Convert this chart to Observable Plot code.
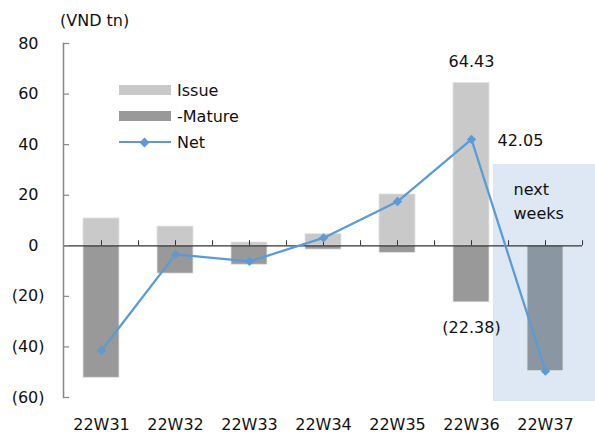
<!DOCTYPE html>
<html>
<head>
<meta charset="utf-8">
<script src="https://cdn.jsdelivr.net/npm/d3@7"></script>
<script src="https://cdn.jsdelivr.net/npm/@observablehq/plot@0.6"></script>
<style>
  body { margin: 0; background: #fff; }
  #chart { position: relative; width: 595px; height: 435px; font-family: "DejaVu Sans", sans-serif; color: #111; }
  #chart svg { position: absolute; left: 0; top: 0; }
  .unit { position: absolute; left: 60px; top: 11px; font-size: 16px; line-height: 20px; }
  .legend { position: absolute; left: 119px; top: 77px; font-size: 16px; }
  .legend .row { position: relative; height: 26px; display: flex; align-items: center; }
  .legend .sw { width: 52px; height: 10px; margin-right: 6px; }
  .legend .ln { width: 52px; height: 10px; margin-right: 6px; position: relative; }
  .legend .ln::before { content: ""; position: absolute; left: 0; right: 0; top: 4px; height: 2.25px; background: #5b9bd5; }
  .legend .ln::after { content: ""; position: absolute; left: 22px; top: 1.5px; width: 7px; height: 7px; background: #5b9bd5; transform: rotate(45deg); }
</style>
</head>
<body>
<div id="chart"></div>
<script>
// Weekly government bond issuance vs. maturities (VND tn)
const weeks = ["22W31", "22W32", "22W33", "22W34", "22W35", "22W36", "22W37"];
const issue = [10.8, 7.6, 1.3, 4.6, 20.3, 64.43, 0];
const mature = [-52.2, -11.0, -7.5, -1.5, -2.8, -22.38, -49.6];
const net = [-41.4, -3.4, -6.2, 3.1, 17.5, 42.05, -49.6];

// Upcoming weeks, shaded as a forecast zone
const forecastWeeks = ["22W37"];
const forecastBand = [-61.6, 32.1];

const yTicks = [-60, -40, -20, 0, 20, 40, 60, 80];
const yPositiveTicks = [0, 20, 40, 60, 80];
const yNegativeTicks = [-20, -40, -60];

const labelWeek = "22W36";

const rows = weeks.map((week, i) => ({week, issue: issue[i], mature: mature[i], net: net[i]}));
const labelled = rows.filter(d => d.week === labelWeek);

const issueColor = "#c9c9c9";
const matureColor = "#999999";
const forecastMatureColor = "#8a96a2";
const netColor = "#5b9bd5";

const chart = Plot.plot({
  width: 595,
  height: 435,
  marginLeft: 63,
  marginRight: 13,
  marginTop: 43,
  marginBottom: 38,
  style: {fontFamily: "DejaVu Sans, sans-serif", fontSize: "16px", color: "#111", background: "transparent"},
  x: {domain: weeks, padding: 0, label: null},
  y: {domain: [-60, 80], label: null},
  marks: [
    // forecast zone
    Plot.barY(forecastWeeks, {x: d => d, y1: forecastBand[0], y2: forecastBand[1], fill: "#dde8f4", insetLeft: -15, insetRight: -13}),
    // issuance and maturities
    Plot.barY(rows, {x: "week", y1: 0, y2: "issue", fill: issueColor, stroke: "#e4e4e4", strokeWidth: 0.8, insetLeft: 19, insetRight: 19}),
    Plot.barY(rows, {x: "week", y1: 0, y2: "mature", fill: d => forecastWeeks.includes(d.week) ? forecastMatureColor : matureColor, stroke: "#e4e4e4", strokeWidth: 0.8, insetLeft: 19, insetRight: 19}),
    // zero line with its small ticks
    Plot.ruleY([0], {stroke: "#333", strokeWidth: 1.3}),
    Plot.ruleX(weeks, {x: d => d, y1: 0, y2: 2, stroke: "#333", strokeWidth: 1}),
    Plot.ruleX(weeks, {x: d => d, y1: 0, y2: 2, dx: 37.07, stroke: "#333", strokeWidth: 1}),
    // left axis line and ticks
    Plot.frame({anchor: "left", stroke: "#878787", strokeWidth: 1.5}),
    Plot.axisY({ticks: yTicks, tickSize: 6, dx: 6, stroke: "#878787", strokeWidth: 1.2, tickFormat: () => "", label: null}),
    Plot.axisY({ticks: yPositiveTicks, tickSize: 0, tickPadding: 25, tickFormat: d => `${d}`, fill: "#111", fontSize: 16, label: null}),
    Plot.axisY({ticks: yNegativeTicks, tickSize: 0, tickPadding: 19, tickFormat: d => `(${-d})`, fill: "#111", fontSize: 16, label: null}),
    Plot.axisX({tickSize: 0, tickPadding: 21, fill: "#111", fontSize: 16, label: null}),
    // net flow
    Plot.line(rows, {x: "week", y: "net", stroke: netColor, strokeWidth: 2.25}),
    Plot.dot(rows, {x: "week", y: "net", symbol: "diamond2", r: 4.2, fill: netColor}),
    // value labels
    Plot.text(labelled, {x: "week", y: "issue", text: d => d.issue.toFixed(2), dy: -21, fontSize: 16, fill: "#111"}),
    Plot.text(labelled, {x: "week", y: "net", text: d => d.net.toFixed(2), textAnchor: "start", dx: 26, dy: 1, fontSize: 16, fill: "#111"}),
    Plot.text(labelled, {x: "week", y: "mature", text: d => `(${(-d.mature).toFixed(2)})`, dy: 25, fontSize: 16, fill: "#111"}),
    Plot.text(forecastWeeks, {x: d => d, y: forecastBand[1], text: () => "next\nweeks", textAnchor: "start", dx: -32, dy: 34.5, lineHeight: 1.55, fontSize: 16, fill: "#111"})
  ]
});

const root = document.getElementById("chart");
root.appendChild(chart);

const unit = document.createElement("div");
unit.className = "unit";
unit.textContent = "(VND tn)";
root.appendChild(unit);

const legend = document.createElement("div");
legend.className = "legend";
legend.innerHTML = `
  <div class="row"><div class="sw" style="background:${issueColor}"></div>Issue</div>
  <div class="row"><div class="sw" style="background:${matureColor}"></div>-Mature</div>
  <div class="row"><div class="ln"></div>Net</div>`;
root.appendChild(legend);
</script>
</body>
</html>
